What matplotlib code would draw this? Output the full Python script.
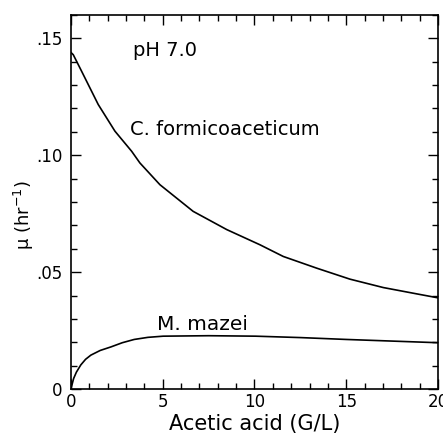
import matplotlib.pyplot as plt
from matplotlib.ticker import MultipleLocator, FixedFormatter, FixedLocator

plt.rcParams.update({'font.family': 'DejaVu Sans'})

# growth rate curves
acetic_cf = [0.0, 0.13, 0.58, 1.49, 2.40, 3.31, 3.76, 4.85, 6.66, 8.49, 10.3,
             11.57, 13.39, 15.2, 17.02, 18.84, 20.0]
mu_cf = [0.1440, 0.1430, 0.1360, 0.1217, 0.1103, 0.1017, 0.0967, 0.0874, 0.0760, 0.0682,
         0.0617, 0.0567, 0.0517, 0.0470, 0.0434, 0.0407, 0.0390]

acetic_mm = [0.0, 0.15, 0.3, 0.54, 0.8, 1.09, 1.6, 2.18, 2.8, 3.45, 4.2, 5.03, 7.5, 10.06,
             12.5, 15.0, 17.5, 20.0]
mu_mm = [0.0, 0.0045, 0.0072, 0.0103, 0.0127, 0.0145, 0.0165, 0.0180, 0.0198, 0.0212,
         0.0221, 0.0226, 0.0228, 0.0226, 0.0220, 0.0212, 0.0205, 0.0198]

xticks = [0, 5, 10, 15, 20]
xticklabels = ['0', '5', '10', '15', '20']
yticks = [0, 0.05, 0.10, 0.15]
yticklabels = ['0', '.05', '.10', '.15']

fig = plt.figure(figsize=(4.43, 4.33), dpi=100)
ax = fig.add_axes([0.160, 0.1016, 0.8287, 0.8638])

ax.plot(acetic_cf, mu_cf, color='black', lw=1.2)
ax.plot(acetic_mm, mu_mm, color='black', lw=1.2)

ax.set_xlim(0, 20)
ax.set_ylim(0, 0.16)

ax.xaxis.set_major_locator(FixedLocator(xticks))
ax.xaxis.set_major_formatter(FixedFormatter(xticklabels))
ax.xaxis.set_minor_locator(MultipleLocator(1))
ax.yaxis.set_major_locator(FixedLocator(yticks))
ax.yaxis.set_major_formatter(FixedFormatter(yticklabels))
ax.yaxis.set_minor_locator(MultipleLocator(0.01))

ax.tick_params(which='both', direction='in', top=True, right=True, labelsize=12, width=1)
ax.tick_params(which='major', length=7)
ax.tick_params(axis='x', which='major', pad=3)
ax.tick_params(axis='y', which='major', pad=6)
ax.tick_params(which='minor', length=4)
for s in ax.spines.values():
    s.set_linewidth(1.2)

ax.set_xlabel('Acetic acid (G/L)', fontsize=15)
ax.xaxis.set_label_coords(0.5, -0.068)
ax.set_ylabel('μ (hr$^{-1}$)', fontsize=13)
ax.yaxis.set_label_coords(-0.095, 0.465)

ax.text(3.38, 0.145, 'pH 7.0', fontsize=14, va='center')
ax.text(3.2, 0.111, 'C. formicoaceticum', fontsize=14, va='center')
ax.text(4.69, 0.0274, 'M. mazei', fontsize=14.5, va='center')

plt.savefig('out.png', dpi=100)
plt.close()
